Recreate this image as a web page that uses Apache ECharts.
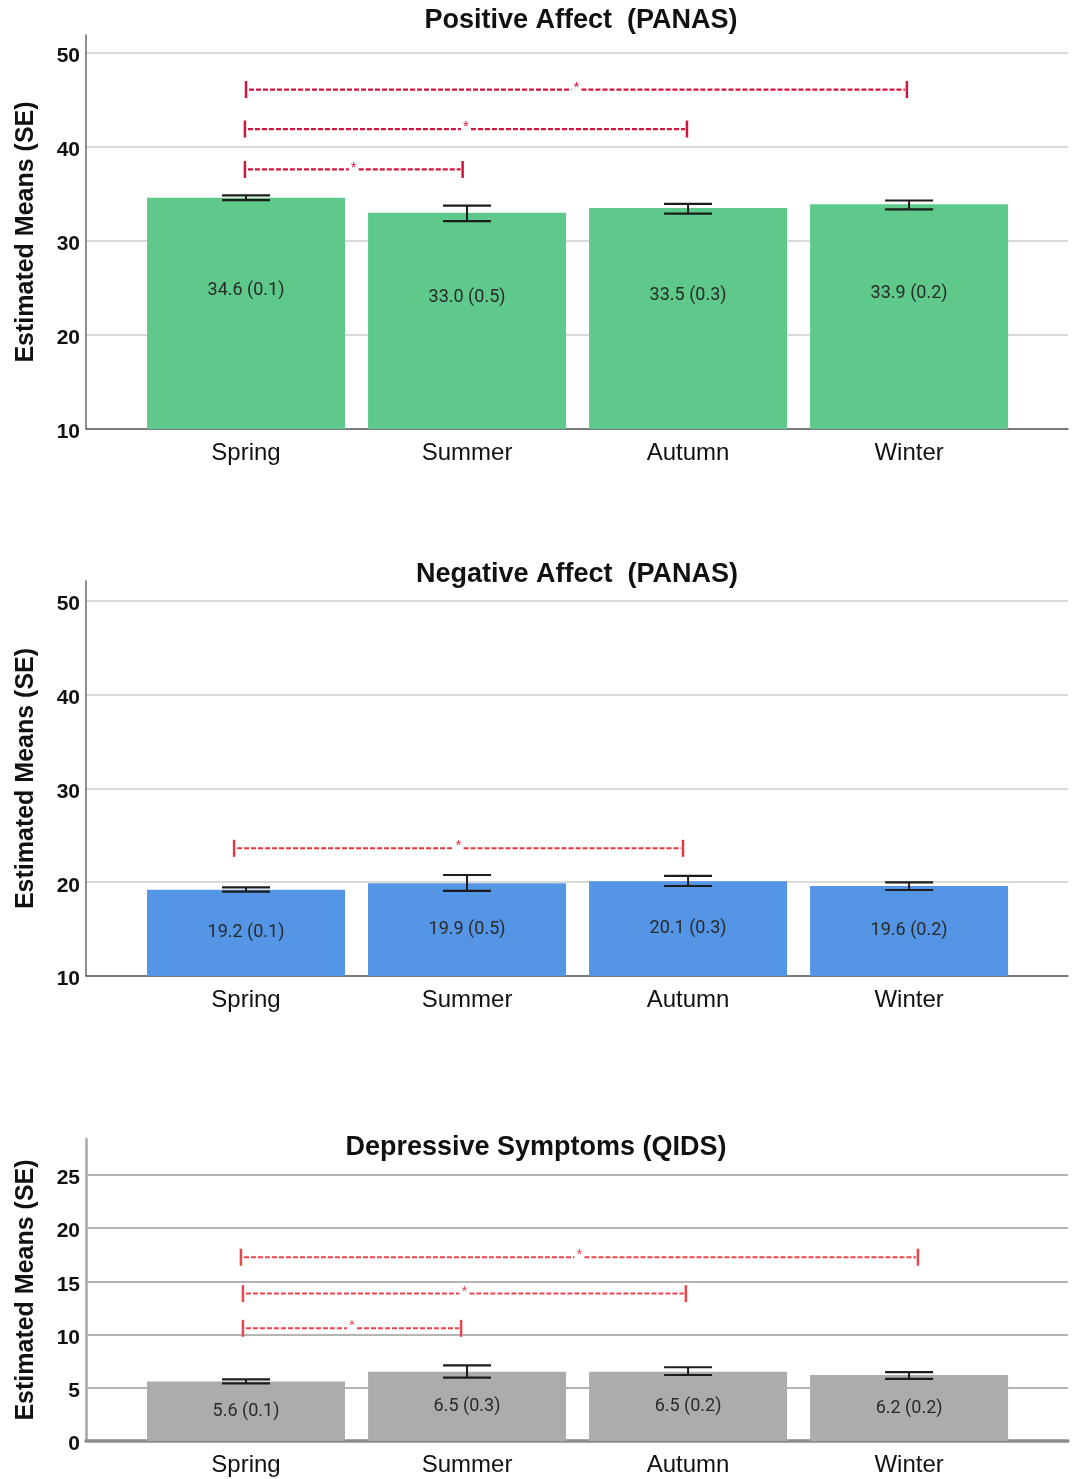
<!DOCTYPE html>
<html>
<head>
<meta charset="utf-8">
<script src="https://cdn.jsdelivr.net/npm/echarts@6/dist/echarts.min.js"></script>
<style>
html,body{margin:0;padding:0;background:#fff;}
#chart{width:1074px;height:1479px;}
</style>
</head>
<body>
<div id="chart"></div>
<script>
// ---------- data ----------
const seasons = ['Spring', 'Summer', 'Autumn', 'Winter'];
const seasonPos = [0, 1, 2, 3];

const paTitle = 'Positive Affect  (PANAS)';
const paMeans = [34.6, 33.0, 33.5, 33.9];
const paSE = [0.1, 0.5, 0.3, 0.2];
const paErrLow = [34.35, 32.1, 32.9, 33.35];
const paErrHigh = [34.85, 33.75, 33.95, 34.3];
const paBrackets = [[0, 2.99, 46.1], [-0.005, 1.995, 41.9], [-0.005, 0.98, 37.6]];
const paTicks = [10, 20, 30, 40, 50];

const naTitle = 'Negative Affect  (PANAS)';
const naMeans = [19.2, 19.9, 20.1, 19.6];
const naSE = [0.1, 0.5, 0.3, 0.2];
const naErrLow = [18.99, 19.07, 19.6, 19.17];
const naErrHigh = [19.46, 20.77, 20.67, 19.99];
const naBrackets = [[-0.054, 1.977, 23.62]];
const naTicks = [10, 20, 30, 40, 50];

const qTitle = 'Depressive Symptoms (QIDS)';
const qMeans = [5.6, 6.5, 6.5, 6.2];
const qSE = [0.1, 0.3, 0.2, 0.2];
const qErrLow = [5.42, 5.95, 6.2, 5.83];
const qErrHigh = [5.8, 7.11, 6.93, 6.48];
const qBrackets = [[-0.023, 3.04, 17.27], [-0.014, 1.99, 13.85], [-0.014, 0.973, 10.59]];
const qTicks = [0, 5, 10, 15, 20, 25];

const yName = 'Estimated Means (SE)';

// ---------- helpers ----------
const FONT = '"Liberation Sans", Arial, sans-serif';

function bracketRender(color, lw) {
  return function (params, api) {
    const x1 = api.value(0), x2 = api.value(1), yv = api.value(2);
    const p1 = api.coord([x1, yv]), p2 = api.coord([x2, yv]);
    const y = p1[1];
    const mid = (p1[0] + p2[0]) / 2;
    const h = 8.5;
    return {
      type: 'group',
      children: [
        {type: 'line', shape: {x1: p1[0], y1: y - h, x2: p1[0], y2: y + h}, style: {stroke: color, lineWidth: 2.5}},
        {type: 'line', shape: {x1: p2[0], y1: y - h, x2: p2[0], y2: y + h}, style: {stroke: color, lineWidth: 2.5}},
        {type: 'line', shape: {x1: p1[0] + 3, y1: y, x2: mid - 5, y2: y}, style: {stroke: color, lineWidth: lw, lineDash: [5, 2]}},
        {type: 'line', shape: {x1: mid + 5, y1: y, x2: p2[0] - 2, y2: y}, style: {stroke: color, lineWidth: lw, lineDash: [5, 2]}},
        {type: 'text', x: mid, y: y - 2, style: {text: '*', fill: color, fontSize: 15, fontFamily: FONT, align: 'center', verticalAlign: 'middle'}}
      ]
    };
  };
}

function errRender(params, api) {
  const x = api.value(0);
  const lo = api.coord([x, api.value(1)]);
  const hi = api.coord([x, api.value(2)]);
  const w = 24;
  return {
    type: 'group',
    children: [
      {type: 'line', shape: {x1: lo[0], y1: lo[1], x2: hi[0], y2: hi[1]}, style: {stroke: '#1c1c1c', lineWidth: 2}},
      {type: 'line', shape: {x1: lo[0] - w, y1: lo[1], x2: lo[0] + w, y2: lo[1]}, style: {stroke: '#1c1c1c', lineWidth: 2.2}},
      {type: 'line', shape: {x1: hi[0] - w, y1: hi[1], x2: hi[0] + w, y2: hi[1]}, style: {stroke: '#1c1c1c', lineWidth: 2.2}}
    ]
  };
}

const grids = [
  {left: 86, right: 6, top: 35, height: 394},
  {left: 86, right: 6, top: 581, height: 395},
  {left: 86, right: 6, top: 1139, height: 302}
];

const axisStyles = [
  {axisColor: '#5a5a5a', axisW: 1.5, yAxisColor: '#6a6a6a', yAxisW: 1.5, gridColor: '#cdcdcd', gridW: 1.5},
  {axisColor: '#5a5a5a', axisW: 1.5, yAxisColor: '#6a6a6a', yAxisW: 1.5, gridColor: '#cdcdcd', gridW: 1.5},
  {axisColor: '#8c8c8c', axisW: 3.5, yAxisColor: '#a6a6a6', yAxisW: 2.5, gridColor: '#b4b4b4', gridW: 2}
];

const yRanges = [[10, 51.9], [10, 52.13], [0, 28.38]];
const tickSets = [paTicks, naTicks, qTicks];

const xAxes = grids.map((g, i) => ({
  type: 'value',
  gridIndex: i,
  min: -0.724,
  max: 3.719,
  splitLine: {show: false},
  axisTick: {show: false},
  axisLine: {show: true, onZero: false, lineStyle: {color: axisStyles[i].axisColor, width: axisStyles[i].axisW}},
  axisLabel: {
    customValues: seasonPos,
    formatter: v => seasons[Math.round(v)] || '',
    fontSize: 24, color: '#111', fontFamily: FONT, margin: 12
  }
}));

const yAxes = grids.map((g, i) => ({
  type: 'value',
  gridIndex: i,
  min: yRanges[i][0],
  max: yRanges[i][1],
  name: yName,
  nameLocation: 'middle',
  nameGap: 47,
  nameTextStyle: {fontSize: 25, fontWeight: 'bold', color: '#111', fontFamily: FONT},
  axisLine: {show: true, onZero: false, lineStyle: {color: axisStyles[i].yAxisColor, width: axisStyles[i].yAxisW}},
  axisTick: {show: false, customValues: tickSets[i]},
  axisLabel: {
    customValues: tickSets[i],
    margin: 6,
    formatter: v => '{t|' + v + '}',
    rich: {t: {fontSize: 21, fontWeight: 'bold', color: '#111', fontFamily: FONT, padding: [7, 0, 0, 0]}}
  },
  splitLine: {show: true, lineStyle: {color: axisStyles[i].gridColor, width: axisStyles[i].gridW}}
}));

function barSeries(idx, means, se, color, offsetY) {
  return {
    type: 'bar',
    xAxisIndex: idx, yAxisIndex: idx,
    barWidth: 198,
    data: means.map((m, k) => [seasonPos[k], m]),
    itemStyle: {color: color},
    label: {
      show: true,
      position: 'inside',
      offset: [0, offsetY],
      formatter: p => means[p.dataIndex].toFixed(1) + ' (' + se[p.dataIndex].toFixed(1) + ')',
      fontSize: 18, color: '#2a2a2a', fontFamily: 'Roboto, "Liberation Sans", Arial'
    },
    z: 2
  };
}

function errSeries(idx, lo, hi) {
  return {
    type: 'custom',
    xAxisIndex: idx, yAxisIndex: idx,
    renderItem: errRender,
    data: lo.map((l, k) => [seasonPos[k], l, hi[k]]),
    encode: {x: 0, y: [1, 2]},
    clip: false,
    z: 5
  };
}

function bracketSeries(idx, br, color, lw) {
  return {
    type: 'custom',
    xAxisIndex: idx, yAxisIndex: idx,
    renderItem: bracketRender(color, lw),
    data: br,
    encode: {x: [0, 1], y: 2},
    clip: false,
    z: 6
  };
}

const chart = echarts.init(document.getElementById('chart'), null, {renderer: 'canvas'});
chart.setOption({
  backgroundColor: '#ffffff',
  animation: false,
  grid: grids,
  xAxis: xAxes,
  yAxis: yAxes,
  graphic: [
    {type: 'text', x: 581, y: 21, style: {text: paTitle, fontSize: 27, fontWeight: 'bold', fontFamily: FONT, fill: '#111', align: 'center', verticalAlign: 'middle'}},
    {type: 'text', x: 577, y: 575, style: {text: naTitle, fontSize: 27, fontWeight: 'bold', fontFamily: FONT, fill: '#111', align: 'center', verticalAlign: 'middle'}},
    {type: 'text', x: 536, y: 1148, style: {text: qTitle, fontSize: 27, fontWeight: 'bold', fontFamily: FONT, fill: '#111', align: 'center', verticalAlign: 'middle'}}
  ],
  series: [
    barSeries(0, paMeans, paSE, '#5ec98a', -23),
    errSeries(0, paErrLow, paErrHigh),
    bracketSeries(0, paBrackets, '#d3153e', 2.2),
    barSeries(1, naMeans, naSE, '#5595e5', 0),
    errSeries(1, naErrLow, naErrHigh),
    bracketSeries(1, naBrackets, '#e8363f', 2),
    barSeries(2, qMeans, qSE, '#acacac', 0),
    errSeries(2, qErrLow, qErrHigh),
    bracketSeries(2, qBrackets, '#e9454c', 2)
  ]
});
</script>
</body>
</html>
